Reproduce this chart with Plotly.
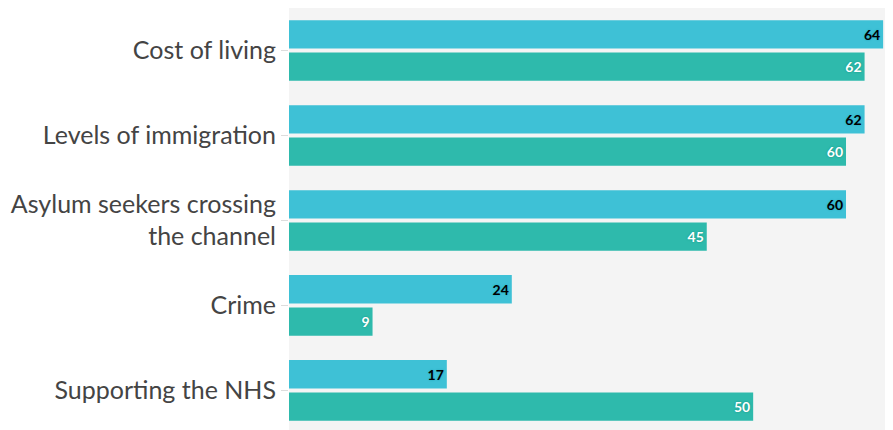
import plotly.graph_objects as go

categories = ["Cost of living", "Levels of immigration",
              "Asylum seekers crossing<br>the channel", "Crime", "Supporting the NHS"]
series_a = [64, 62, 60, 24, 17]
series_b = [62, 60, 45, 9, 50]

blue = "#3EC1D6"
teal = "#2EBAAC"

fig = go.Figure()
fig.add_trace(go.Bar(
    y=categories, x=series_a, orientation="h", marker=dict(color=blue, line=dict(width=0)),
    text=[str(v) for v in series_a], textposition="inside", insidetextanchor="end",
    textfont=dict(family="Lato", size=14, color="#000000", weight="bold",
                  shadow="0px 0px 2px #1f9fb5"),
    constraintext="none", cliponaxis=False, hoverinfo="skip", name="A"))
fig.add_trace(go.Bar(
    y=categories, x=series_b, orientation="h", marker=dict(color=teal, line=dict(width=0)),
    text=[str(v) for v in series_b], textposition="inside", insidetextanchor="end",
    textfont=dict(family="Lato", size=14, color="#ffffff", weight="bold",
                  shadow="0px 0px 2px #13907f"),
    constraintext="none", cliponaxis=False, hoverinfo="skip", name="B"))

fig.update_layout(
    width=877, height=422,
    margin=dict(l=281, r=0, t=0, b=0),
    paper_bgcolor="#ffffff", plot_bgcolor="#f4f4f4",
    barmode="group", bargap=0.24, bargroupgap=0.12,
    showlegend=False,
    font=dict(family="Lato", color="#444444"),
)
fig.update_xaxes(range=[0, 64.2], showgrid=False, zeroline=False, showticklabels=False,
                 fixedrange=True)
fig.update_yaxes(range=[4.465, -0.5], showgrid=False, zeroline=False,
                 ticks="outside", ticklen=7, tickcolor="#dddddd",
                 tickfont=dict(family="Lato", size=25, color="#444444"),
                 ticklabelstandoff=0, fixedrange=True)

fig.write_html("out.html")
